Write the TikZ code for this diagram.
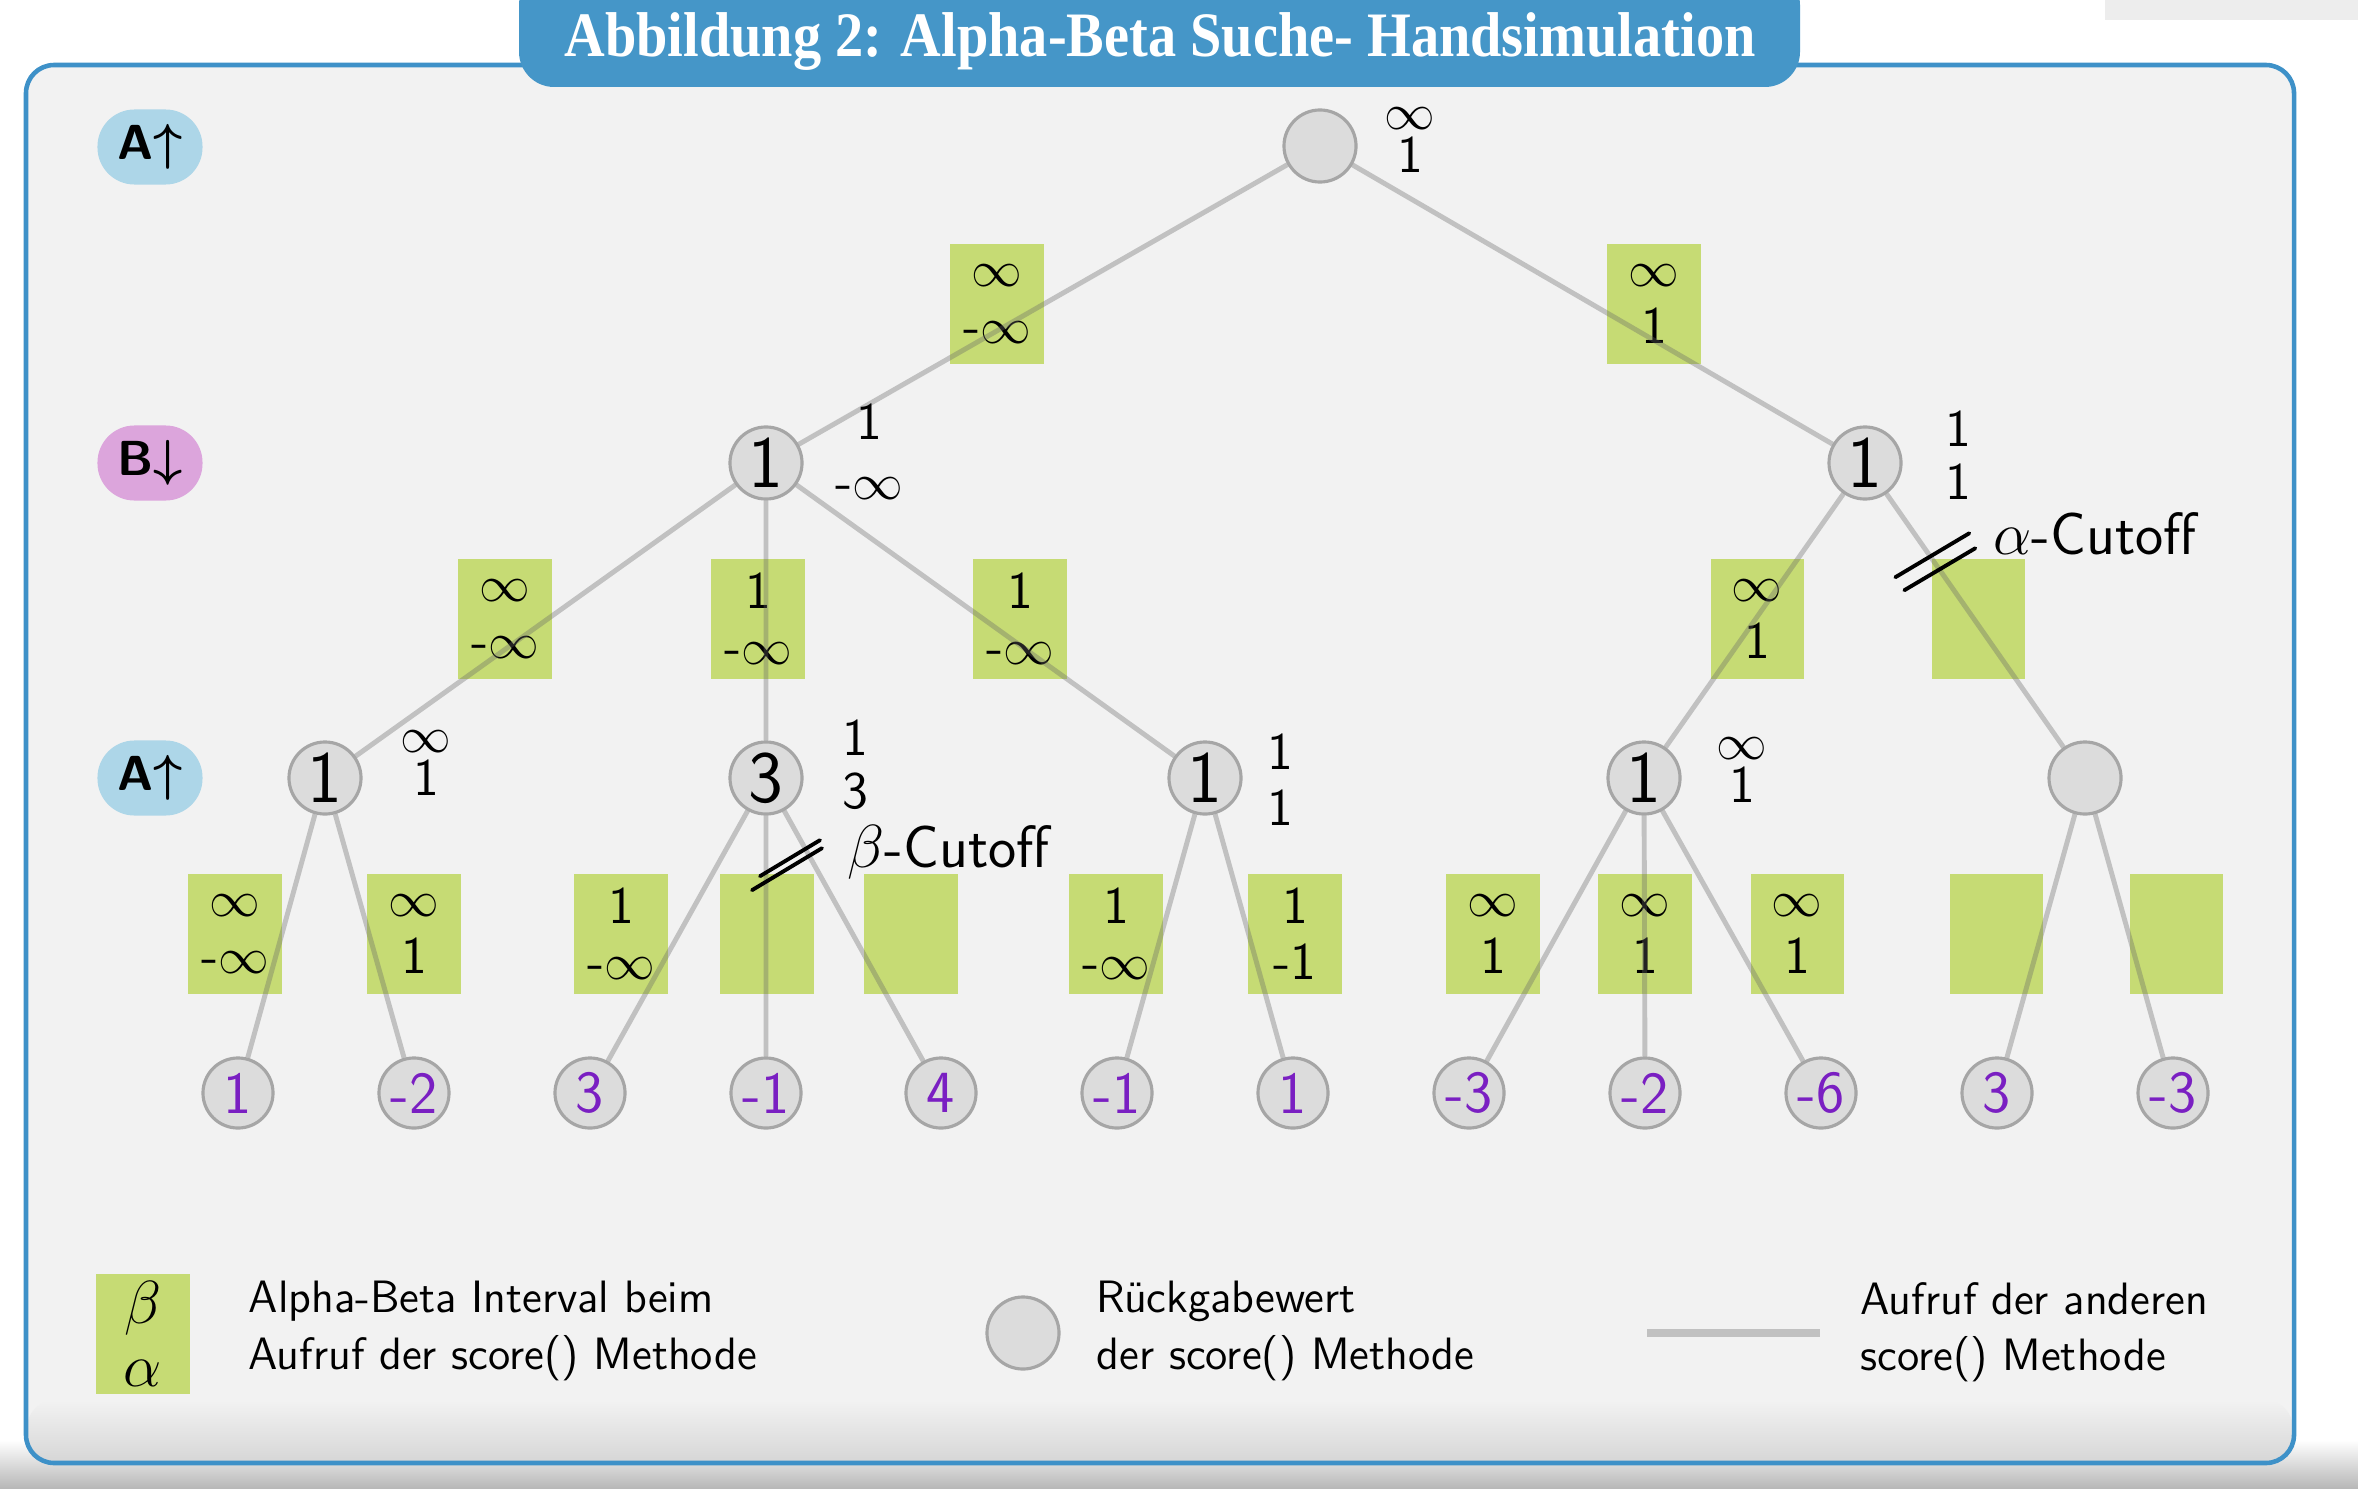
\documentclass[tikz,border=0pt]{standalone}
\usepackage{fontspec}
\usepackage{amsmath}
\newfontfamily\titlefont{Liberation Serif}[FakeStretch=0.89]
\usetikzlibrary{positioning}

\definecolor{panelgray}{HTML}{F2F2F2}
\definecolor{frameblue}{HTML}{3E91C8}
\definecolor{titleblue}{HTML}{4596C8}
\definecolor{ivgreen}{HTML}{C6DB74}
\definecolor{nodegray}{HTML}{DCDCDC}
\definecolor{nodeline}{HTML}{A6A6A6}
\definecolor{pillblue}{HTML}{ADD6E8}
\definecolor{pillpink}{HTML}{DCA5DC}
\definecolor{leafpurple}{HTML}{7A1FC2}

\begin{document}
\begin{tikzpicture}[x=0.01cm, y=-0.01cm,
    valnode/.style={circle, draw=nodeline, fill=nodegray, line width=0.9pt, minimum size=0.72cm, inner sep=0pt, font=\fontsize{21}{21}\selectfont\sffamily},
    leaf/.style={valnode, minimum size=0.70cm, text=leafpurple, font=\fontsize{17}{17}\selectfont\sffamily},
    ivbox/.style={fill=ivgreen, minimum width=0.93cm, minimum height=1.19cm, inner sep=0pt, align=center, font=\fontsize{15}{16}\selectfont\sffamily},
    hand/.style={align=center, inner sep=0pt, font=\fontsize{15}{15}\selectfont\sffamily},
    pill/.style={rounded corners=0.37cm, minimum width=1.05cm, minimum height=0.75cm, inner sep=0pt, font=\fontsize{14}{14}\selectfont\sffamily\bfseries},
    treeline/.style={draw=black!60, draw opacity=0.35, line width=1.4pt},
    cutmark/.style={line width=1.1pt, line cap=round},
    legtext/.style={anchor=west, align=left, inner sep=0pt, font=\fontsize{12.9}{16}\selectfont\sffamily}
]
\useasboundingbox (0,0) rectangle (2358,1488);

% screen background and panel
\fill[white] (0,0) rectangle (2358,1488);
\shade[top color=white, bottom color=black!28] (0,1440) rectangle (2358,1488);
\fill[black!7] (2105,0) rectangle (2358,20);
\fill[panelgray, rounded corners=8pt] (26,65) rectangle (2294,1463);
\shade[top color=panelgray, bottom color=black!16, rounded corners=8pt] (27,1400) rectangle (2293,1462);
\draw[frameblue, line width=1.3pt, rounded corners=8pt] (26,65) rectangle (2294,1463);

% title
\fill[titleblue, rounded corners=10pt] (519,-30) rectangle (1800,87);
\node[text=white, font=\fontsize{18}{18}\selectfont\titlefont\bfseries] (title) at (1160,42) {Abbildung 2: Alpha-Beta Suche- Handsimulation};

% level markers
\node[pill, fill=pillblue] (lvA1) at (150,147) {A$\boldsymbol{\uparrow}$};
\node[pill, fill=pillpink] (lvB) at (150,463) {B$\boldsymbol{\downarrow}$};
\node[pill, fill=pillblue] (lvA2) at (150,778) {A$\boldsymbol{\uparrow}$};

% alpha-beta intervals
\node[ivbox] (iv1) at (997,304) {$\infty$\\-$\infty$};
\node[ivbox] (iv2) at (1654,304) {$\infty$\\1};
\node[ivbox] (iv11) at (505,619) {$\infty$\\-$\infty$};
\node[ivbox] (iv12) at (758,619) {1\\-$\infty$};
\node[ivbox] (iv13) at (1020,619) {1\\-$\infty$};
\node[ivbox] (iv21) at (1757,619) {$\infty$\\1};
\node[ivbox] (iv22) at (1978,619) {};
\node[ivbox] (iv111) at (235,934) {$\infty$\\-$\infty$};
\node[ivbox] (iv112) at (414,934) {$\infty$\\1};
\node[ivbox] (iv121) at (621,934) {1\\-$\infty$};
\node[ivbox] (iv122) at (767,934) {};
\node[ivbox] (iv123) at (911,934) {};
\node[ivbox] (iv131) at (1116,934) {1\\-$\infty$};
\node[ivbox] (iv132) at (1295,934) {1\\-1};
\node[ivbox] (iv211) at (1493,934) {$\infty$\\1};
\node[ivbox] (iv212) at (1645,934) {$\infty$\\1};
\node[ivbox] (iv213) at (1797,934) {$\infty$\\1};
\node[ivbox] (iv221) at (1996,934) {};
\node[ivbox] (iv222) at (2176,934) {};

% tree
\node[valnode] (root) at (1320,146) {};
\node[valnode] (b1) at (766,463) {1};
\node[valnode] (b2) at (1865,463) {1};
\node[valnode] (a1) at (325,778) {1};
\node[valnode] (a2) at (766,778) {3};
\node[valnode] (a3) at (1205,778) {1};
\node[valnode] (a4) at (1644,778) {1};
\node[valnode] (a5) at (2085,778) {};
\node[leaf] (l1) at (238,1093) {1};
\node[leaf] (l2) at (414,1093) {-2};
\node[leaf] (l3) at (590,1093) {3};
\node[leaf] (l4) at (766,1093) {-1};
\node[leaf] (l5) at (941,1093) {4};
\node[leaf] (l6) at (1117,1093) {-1};
\node[leaf] (l7) at (1293,1093) {1};
\node[leaf] (l8) at (1469,1093) {-3};
\node[leaf] (l9) at (1645,1093) {-2};
\node[leaf] (l10) at (1821,1093) {-6};
\node[leaf] (l11) at (1997,1093) {3};
\node[leaf] (l12) at (2173,1093) {-3};

\draw[treeline] (root) -- (b1) (root) -- (b2)
    (b1) -- (a1) (b1) -- (a2) (b1) -- (a3)
    (b2) -- (a4) (b2) -- (a5)
    (a1) -- (l1) (a1) -- (l2)
    (a2) -- (l3) (a2) -- (l4) (a2) -- (l5)
    (a3) -- (l6) (a3) -- (l7)
    (a4) -- (l8) (a4) -- (l9) (a4) -- (l10)
    (a5) -- (l11) (a5) -- (l12);

% handwritten bounds
\node[hand] (hroot) at (1410,140) {$\infty$\\[-3pt]1};
\node[hand] (hb1) at (869,452) {1\\[2pt]-$\infty$};
\node[hand] (hb2) at (1958,455) {1\\1};
\node[hand] (ha1) at (426,763) {$\infty$\\[-3pt]1};
\node[hand] (ha2) at (855,765) {1\\3};
\node[hand] (ha3) at (1280,780) {1\\[1pt]1};
\node[hand] (ha4) at (1742,770) {$\infty$\\[-3pt]1};

% cutoffs
\path (b2) -- (a5) coordinate[pos=0.27] (acut);
\path (a2) -- (l4) coordinate[pos=0.21] (bcut);
\draw[cutmark] ([shift={(-39,15)}]acut) -- ([shift={(35,-29)}]acut)
    ([shift={(-30,28)}]acut) -- ([shift={(41,-14)}]acut);
\draw[cutmark] ([shift={(-14,24)}]bcut) -- ([shift={(56,-18)}]bcut)
    ([shift={(-6,10)}]bcut) -- ([shift={(54,-26)}]bcut);
\node[hand, anchor=west, font=\fontsize{17}{17}\selectfont\sffamily] (acuttext) at (1993,534) {$\alpha$-Cutoff};
\node[hand, anchor=west, font=\fontsize{17}{17}\selectfont\sffamily] (bcuttext) at (847,852) {$\beta$-Cutoff};

% legend
\node[ivbox, font=\fontsize{18}{18}\selectfont] (legbox) at (143,1334) {$\beta$\\$\alpha$};
\node[legtext] (legboxtext) at (248,1331) {Alpha-Beta Interval beim\\Aufruf der score() Methode};
\node[valnode] (legnode) at (1023,1333) {};
\node[legtext] (legnodetext) at (1096,1331) {Rückgabewert\\der score() Methode};
\coordinate (legA) at (1647,1333);
\coordinate (legB) at (1820,1333);
\draw[treeline, line width=2.3pt] (legA) -- (legB);
\node[legtext] (leglinetext) at (1860,1332) {Aufruf der anderen\\score() Methode};
\end{tikzpicture}
\end{document}
